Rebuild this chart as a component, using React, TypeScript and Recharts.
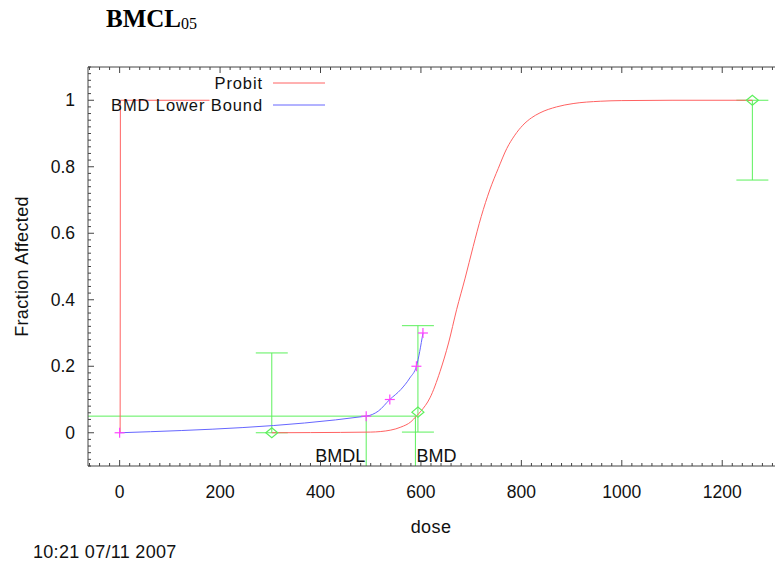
import React from 'react';
import { ComposedChart, XAxis, YAxis, Line, Scatter, ErrorBar, ReferenceLine, Legend } from 'recharts';

// ---- data ----
const probitDose = [303, 380, 440, 500, 540, 560, 580, 591, 600, 618, 638, 655, 671, 688, 704, 720, 737, 754, 771, 787, 803, 820, 837, 870, 903, 957, 1000, 1100, 1260];
const probitFrac = [0, 0.0005, 0.001, 0.002, 0.008, 0.017, 0.033, 0.05, 0.065, 0.105, 0.184, 0.27, 0.37, 0.465, 0.56, 0.65, 0.73, 0.795, 0.855, 0.895, 0.925, 0.947, 0.962, 0.98, 0.99, 0.997, 0.999, 1, 1];
const probitStartDose = [1, 1.5, 179];
const probitStartFrac = [0, 1, 1];
const bmdlCurveDose = [0, 491, 515, 538, 560, 578, 591, 604];
const bmdlCurveFrac = [0, 0.05, 0.065, 0.1, 0.13, 0.165, 0.2, 0.3];
const bmdlMarkDose = [0, 491, 538, 591, 604];
const bmdlMarkFrac = [0, 0.05, 0.1, 0.2, 0.3];
const obsDose = [303, 594, 1260];
const obsFrac = [0, 0.062, 1];
const obsLower = [0, 0.002, 0.76];
const obsUpper = [0.24, 0.322, 1];
const bmr = 0.05;
const bmdlValue = 491;
const bmdValue = 589;
const markerLabels = ['BMDL', 'BMD'];
const legendLabels = ['Probit', 'BMD Lower Bound'];
const xDomain = [-63, 1323];
const yDomain = [-0.1, 1.1];
const xMajorStep = 200;
const xMinorStep = 20;
const yMajorStep = 0.2;
const yMinorStep = 0.02;
const titleMain = 'BMCL';
const titleSub = '05';
const xLabel = 'dose';
const yLabel = 'Fraction Affected';
const timestamp = '10:21 07/11 2007';

// ---- styles ----
const FONT = '"Liberation Sans", Arial, sans-serif';
const RED = '#ff6262';
const BLUE = '#6666ff';
const GREEN = '#5cf05c';
const MAGENTA = '#ff44ff';
const AXIS = '#444';
const TEXT = '#111';

const xTicks: number[] = [];
for (let v = Math.ceil(xDomain[0] / xMinorStep) * xMinorStep; v <= xDomain[1]; v += xMinorStep) xTicks.push(v);
const yTicks: number[] = [];
for (let i = Math.round(yDomain[0] / yMinorStep); i <= Math.round(yDomain[1] / yMinorStep); i++) yTicks.push(Math.round(i * yMinorStep * 100) / 100);

const isXMajor = (v: number) => Math.abs(v % xMajorStep) < 1e-6;
const isYMajor = (v: number) => Math.abs(Math.round(v / yMajorStep) - v / yMajorStep) < 1e-6;

const probitData = probitDose.map((x, i) => ({ x, y: probitFrac[i] }));
const probitStartData = probitStartDose.map((x, i) => ({ x, y: probitStartFrac[i] }));
const bmdlCurveData = bmdlCurveDose.map((x, i) => ({ x, y: bmdlCurveFrac[i] }));
const bmdlMarkData = bmdlMarkDose.map((x, i) => ({ x, y: bmdlMarkFrac[i] }));
const obsData = obsDose.map((x, i) => ({ x, y: obsFrac[i], err: [obsFrac[i] - obsLower[i], obsUpper[i] - obsFrac[i]] }));
const markerData = [
  { x: bmdlValue, y: yDomain[0], label: markerLabels[0], anchor: 'end' },
  { x: bmdValue, y: yDomain[0], label: markerLabels[1], anchor: 'start' },
];

const XTick = (props: any) => {
  const { x, y, payload } = props;
  const v = payload.value;
  const major = isXMajor(v);
  return (
    <g>
      <line x1={x} x2={x} y1={y} y2={y - (major ? 6 : 3)} stroke={AXIS} strokeWidth={1} />
      {major && (
        <text x={x} y={y + 32} textAnchor="middle" fontSize={17.5} fontFamily={FONT} fill={TEXT}>{v}</text>
      )}
    </g>
  );
};

const XTopTick = (props: any) => {
  const { x, y, payload } = props;
  const major = isXMajor(payload.value);
  return <line x1={x} x2={x} y1={y} y2={y + (major ? 6 : 3)} stroke={AXIS} strokeWidth={1} />;
};

const YTick = (props: any) => {
  const { x, y, payload } = props;
  const v = payload.value;
  const major = isYMajor(v);
  return (
    <g>
      <line x1={x} x2={x + (major ? 6 : 3)} y1={y} y2={y} stroke={AXIS} strokeWidth={1} />
      {major && (
        <text x={x - 13} y={y + 6} textAnchor="end" fontSize={17.5} fontFamily={FONT} fill={TEXT}>{String(Math.round(v * 10) / 10)}</text>
      )}
    </g>
  );
};

const Diamond = (p: any) => (
  <polygon
    points={`${p.cx - 6},${p.cy} ${p.cx},${p.cy - 5} ${p.cx + 6},${p.cy} ${p.cx},${p.cy + 5}`}
    fill="none"
    stroke={GREEN}
    strokeWidth={1.2}
  />
);

const Plus = (p: any) => (
  <g stroke={MAGENTA} strokeWidth={1.2}>
    <line x1={p.cx - 5} x2={p.cx + 5} y1={p.cy} y2={p.cy} />
    <line x1={p.cx} x2={p.cx} y1={p.cy - 5} y2={p.cy + 5} />
  </g>
);

const MarkerText = (p: any) => (
  <text
    x={p.payload.anchor === 'end' ? p.cx - 1 : p.cx + 1}
    y={p.cy - 4}
    textAnchor={p.payload.anchor}
    fontSize={18}
    fontFamily={FONT}
    fill={TEXT}
  >
    {p.payload.label}
  </text>
);

const renderLegend = () => (
  <svg width={340} height={120} style={{ display: 'block' }}>
    {legendLabels.map((lab, i) => (
      <g key={lab}>
        <text x={263} y={89 + i * 22} textAnchor="end" fontSize={16.5} letterSpacing={0.9} fontFamily={FONT} fill={TEXT}>{lab}</text>
        <line x1={273} x2={325} y1={83 + i * 22} y2={83 + i * 22} stroke={i === 0 ? RED : BLUE} strokeWidth={1} />
      </g>
    ))}
  </svg>
);

export default function App() {
  return (
    <div style={{ position: 'absolute', left: 0, top: 0, width: 775, height: 563, overflow: 'hidden', background: '#fff' }}>
      <ComposedChart width={800} height={563} margin={{ top: 66, right: 16, bottom: 96, left: 87 }}>
        <XAxis
          xAxisId={0}
          type="number"
          dataKey="x"
          domain={xDomain}
          ticks={xTicks}
          interval={0}
          allowDataOverflow
          height={1}
          tickSize={0}
          tickMargin={0}
          tickLine={false}
          axisLine={{ stroke: AXIS, strokeWidth: 1 }}
          tick={<XTick />}
          label={{
            content: () => (
              <text x={431} y={533} textAnchor="middle" fontSize={18} letterSpacing={0.4} fontFamily={FONT} fill={TEXT}>{xLabel}</text>
            ),
          }}
        />
        <XAxis
          xAxisId="top"
          orientation="top"
          type="number"
          dataKey="x"
          domain={xDomain}
          ticks={xTicks}
          interval={0}
          allowDataOverflow
          height={1}
          tickSize={0}
          tickMargin={0}
          tickLine={false}
          axisLine={{ stroke: AXIS, strokeWidth: 1 }}
          tick={<XTopTick />}
        />
        <YAxis
          yAxisId={0}
          type="number"
          dataKey="y"
          domain={yDomain}
          ticks={yTicks}
          interval={0}
          allowDataOverflow
          width={1}
          tickSize={0}
          tickMargin={0}
          tickLine={false}
          axisLine={{ stroke: AXIS, strokeWidth: 1 }}
          tick={<YTick />}
          label={{
            content: (p: any) => {
              const cy = p.viewBox ? p.viewBox.y + p.viewBox.height / 2 : 266;
              return (
                <text x={28} y={cy} transform={`rotate(-90 28 ${cy})`} textAnchor="middle" fontSize={18} letterSpacing={0.35} fontFamily={FONT} fill={TEXT}>{yLabel}</text>
              );
            },
          }}
        />
        <Legend layout="horizontal" verticalAlign="middle" align="center" content={renderLegend} wrapperStyle={{ left: 0, top: 0, width: 340, height: 120 }} />

        <ReferenceLine segment={[{ x: xDomain[0], y: bmr }, { x: bmdValue, y: bmr }]} stroke={GREEN} strokeWidth={1} />
        <ReferenceLine segment={[{ x: bmdlValue, y: bmr }, { x: bmdlValue, y: yDomain[0] }]} stroke={GREEN} strokeWidth={1} />
        <ReferenceLine segment={[{ x: bmdValue, y: bmr }, { x: bmdValue, y: yDomain[0] }]} stroke={GREEN} strokeWidth={1} />

        <Scatter name="Data" data={obsData} dataKey="y" shape={Diamond} isAnimationActive={false} legendType="none">
          <ErrorBar dataKey="err" direction="y" width={16} stroke={GREEN} strokeWidth={1} />
        </Scatter>

        <Line name="Probit" data={probitData} dataKey="y" type="monotone" stroke={RED} strokeWidth={1} dot={false} isAnimationActive={false} />
        <Line name="Probit start" data={probitStartData} dataKey="y" type="linear" stroke={RED} strokeWidth={1} dot={false} isAnimationActive={false} legendType="none" />
        <Line name="BMD Lower Bound" data={bmdlCurveData} dataKey="y" type="monotone" stroke={BLUE} strokeWidth={1} dot={false} isAnimationActive={false} />
        <Scatter name="BMDL points" data={bmdlMarkData} dataKey="y" shape={Plus} isAnimationActive={false} legendType="none" />
        <Scatter name="Markers" data={markerData} dataKey="y" shape={MarkerText} isAnimationActive={false} legendType="none" />
      </ComposedChart>

      <svg width={775} height={563} style={{ position: 'absolute', left: 0, top: 0, pointerEvents: 'none' }}>
        <text x={106} y={27} fontFamily='"Liberation Serif", "Times New Roman", serif' fontSize={25} fontWeight="bold" fill="#000">
          {titleMain}
          <tspan fontSize={16} fontWeight="normal" dy={2}>{titleSub}</tspan>
        </text>
        <text x={33} y={558} fontSize={18} letterSpacing={0.3} fontFamily={FONT} fill={TEXT}>{timestamp}</text>
      </svg>
    </div>
  );
}
